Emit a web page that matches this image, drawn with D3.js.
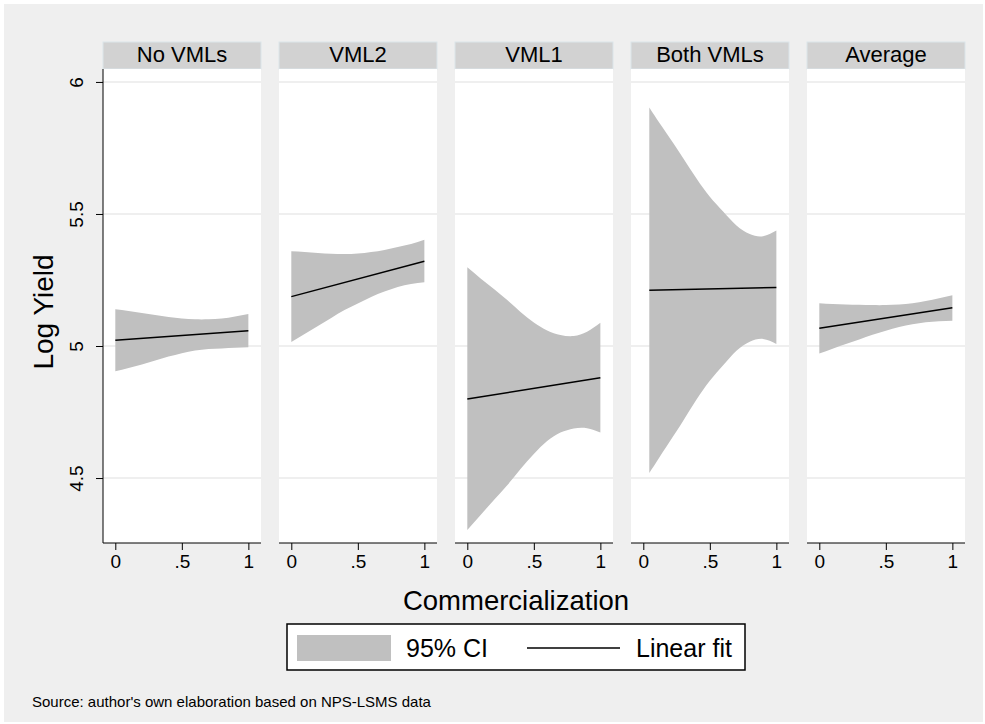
<!DOCTYPE html>
<html>
<head>
<meta charset="utf-8">
<style>
  body { margin: 0; background: #fff; }
  svg text { font-family: "Liberation Sans", Arial, sans-serif; fill: #000; }
</style>
</head>
<body>
<div id="graphic"></div>
<script src="https://d3js.org/d3.v7.min.js"></script>
<script>
// facet labels
var panels = ["No VMLs", "VML2", "VML1", "Both VMLs", "Average"];

var ciX = [0, 0.1, 0.2, 0.3, 0.4, 0.5, 0.6, 0.7, 0.8, 0.9, 1];
var ciXBoth = [0.045, 0.1, 0.2, 0.3, 0.4, 0.5, 0.6, 0.7, 0.8, 0.9, 1];

var ciUpper = [
  [5.139, 5.133, 5.125, 5.117, 5.110, 5.104, 5.101, 5.101, 5.104, 5.112, 5.121],
  [5.359, 5.356, 5.352, 5.349, 5.348, 5.350, 5.356, 5.364, 5.375, 5.386, 5.402],
  [5.298, 5.256, 5.216, 5.174, 5.129, 5.089, 5.059, 5.042, 5.038, 5.054, 5.088],
  [5.903, 5.861, 5.787, 5.711, 5.634, 5.565, 5.509, 5.456, 5.424, 5.416, 5.437],
  [5.162, 5.159, 5.157, 5.156, 5.155, 5.155, 5.157, 5.162, 5.170, 5.181, 5.192]
];
var ciLower = [
  [4.904, 4.917, 4.930, 4.945, 4.960, 4.973, 4.983, 4.989, 4.991, 4.993, 4.995],
  [5.015, 5.045, 5.076, 5.106, 5.136, 5.161, 5.186, 5.206, 5.223, 5.235, 5.241],
  [4.303, 4.360, 4.417, 4.473, 4.534, 4.591, 4.640, 4.672, 4.688, 4.689, 4.672],
  [4.519, 4.562, 4.639, 4.717, 4.797, 4.868, 4.927, 4.982, 5.016, 5.027, 5.008],
  [4.972, 4.990, 5.008, 5.025, 5.043, 5.058, 5.072, 5.082, 5.090, 5.094, 5.096]
];

// linear fit end points
var fitX0 = [0, 0, 0, 0.045, 0];
var fitX1 = [1, 1, 1, 1, 1];
var fitY0 = [5.022, 5.187, 4.799, 5.211, 5.067];
var fitY1 = [5.058, 5.321, 4.880, 5.222, 5.145];

var yTicks = [4.5, 5, 5.5, 6];
var yTickLabels = ["4.5", "5", "5.5", "6"];
var xTicks = [0, 0.5, 1];
var xTickLabels = ["0", ".5", "1"];

var W = 985, H = 724;
var svg = d3.select("#graphic").append("svg")
    .attr("width", W)
    .attr("height", H);

// outer grey background
svg.append("rect")
    .attr("x", 4).attr("y", 4)
    .attr("width", W - 6).attr("height", H - 6)
    .attr("fill", "#efefef");

var panelLeft = 103, panelW = 158, panelGap = 18;
var headTop = 42, headH = 27;
var plotTop = 69, plotBottom = 543;
var font = '"Liberation Sans", Arial, sans-serif';

var x = d3.scaleLinear().domain([-0.0925, 1.095]).range([0, panelW]);
var y = d3.scaleLinear().domain([4.254, 6.049]).range([plotBottom, plotTop]);

var area = d3.area()
    .x(function (d) { return x(d.x); })
    .y0(function (d) { return y(d.lo); })
    .y1(function (d) { return y(d.hi); })
    .curve(d3.curveNatural);

panels.forEach(function (name, i) {
    var g = svg.append("g")
        .attr("transform", "translate(" + (panelLeft + i * (panelW + panelGap)) + ",0)");

    // header strip
    g.append("rect")
        .attr("x", 0).attr("y", headTop)
        .attr("width", panelW).attr("height", headH)
        .attr("fill", "#d2d2d2")
        .attr("stroke", "#dbe5ea")
        .attr("stroke-width", 1);
    g.append("text")
        .attr("x", panelW / 2).attr("y", headTop + 20)
        .attr("text-anchor", "middle")
        .style("font-size", "22px")
        .text(name);

    // plot region
    g.append("rect")
        .attr("x", 0).attr("y", plotTop)
        .attr("width", panelW).attr("height", plotBottom - plotTop)
        .attr("fill", "#fff");

    // gridlines
    g.selectAll(".grid")
        .data(yTicks)
        .enter().append("line")
        .attr("x1", 0).attr("x2", panelW)
        .attr("y1", function (d) { return y(d); })
        .attr("y2", function (d) { return y(d); })
        .attr("stroke", "#eaeaea")
        .attr("stroke-width", 1.5);

    // CI band
    var xs = i === 3 ? ciXBoth : ciX;
    var band = xs.map(function (v, k) {
        return { x: v, lo: ciLower[i][k], hi: ciUpper[i][k] };
    });
    g.append("path")
        .datum(band)
        .attr("d", area)
        .attr("fill", "#c0c0c0");

    // fit line
    g.append("line")
        .attr("x1", x(fitX0[i])).attr("y1", y(fitY0[i]))
        .attr("x2", x(fitX1[i])).attr("y2", y(fitY1[i]))
        .attr("stroke", "#000")
        .attr("stroke-width", 1.5);

    // x axis
    var ax = g.append("g")
        .attr("transform", "translate(0," + plotBottom + ")")
        .call(d3.axisBottom(x).tickValues(xTicks)
            .tickFormat(function (d, k) { return xTickLabels[k]; })
            .tickSize(7).tickPadding(5).tickSizeOuter(0));
    ax.select(".domain").attr("stroke", "#000").attr("d", "M0,0H" + panelW);
    ax.selectAll(".tick line").attr("stroke", "#000");
    ax.selectAll("text").style("font-size", "19px").style("font-family", font);

    if (i === 0) {
        var ay = g.append("g")
            .call(d3.axisLeft(y).tickValues(yTicks)
                .tickFormat(function (d, k) { return yTickLabels[k]; })
                .tickSize(7).tickPadding(0).tickSizeOuter(0));
        ay.select(".domain").attr("stroke", "#000")
            .attr("d", "M0," + plotTop + "V" + plotBottom);
        ay.selectAll(".tick line").attr("stroke", "#000");
        ay.selectAll("text")
            .attr("x", null).attr("dy", null)
            .attr("text-anchor", "middle")
            .attr("transform", "translate(-20,0) rotate(-90)")
            .style("font-size", "19px")
            .style("font-family", font);
    }
});

// axis titles
svg.append("text")
    .attr("x", 516).attr("y", 610)
    .attr("text-anchor", "middle")
    .style("font-size", "27.5px")
    .text("Commercialization");

svg.append("text")
    .attr("transform", "translate(53,312) rotate(-90)")
    .attr("text-anchor", "middle")
    .style("font-size", "28px")
    .text("Log Yield");

// legend
var lg = svg.append("g");
lg.append("rect")
    .attr("x", 287).attr("y", 624)
    .attr("width", 458).attr("height", 46)
    .attr("fill", "#fff")
    .attr("stroke", "#000")
    .attr("stroke-width", 1.5);
lg.append("rect")
    .attr("x", 297).attr("y", 635)
    .attr("width", 94).attr("height", 26)
    .attr("fill", "#c0c0c0");
lg.append("text")
    .attr("x", 406).attr("y", 657)
    .style("font-size", "25px")
    .text("95% CI");
lg.append("line")
    .attr("x1", 527).attr("x2", 620)
    .attr("y1", 648).attr("y2", 648)
    .attr("stroke", "#000").attr("stroke-width", 1.5);
lg.append("text")
    .attr("x", 636).attr("y", 657)
    .style("font-size", "25px")
    .text("Linear fit");

// note
svg.append("text")
    .attr("x", 32).attr("y", 707)
    .style("font-size", "15px")
    .text("Source: author's own elaboration based on NPS-LSMS data");
</script>
</body>
</html>
